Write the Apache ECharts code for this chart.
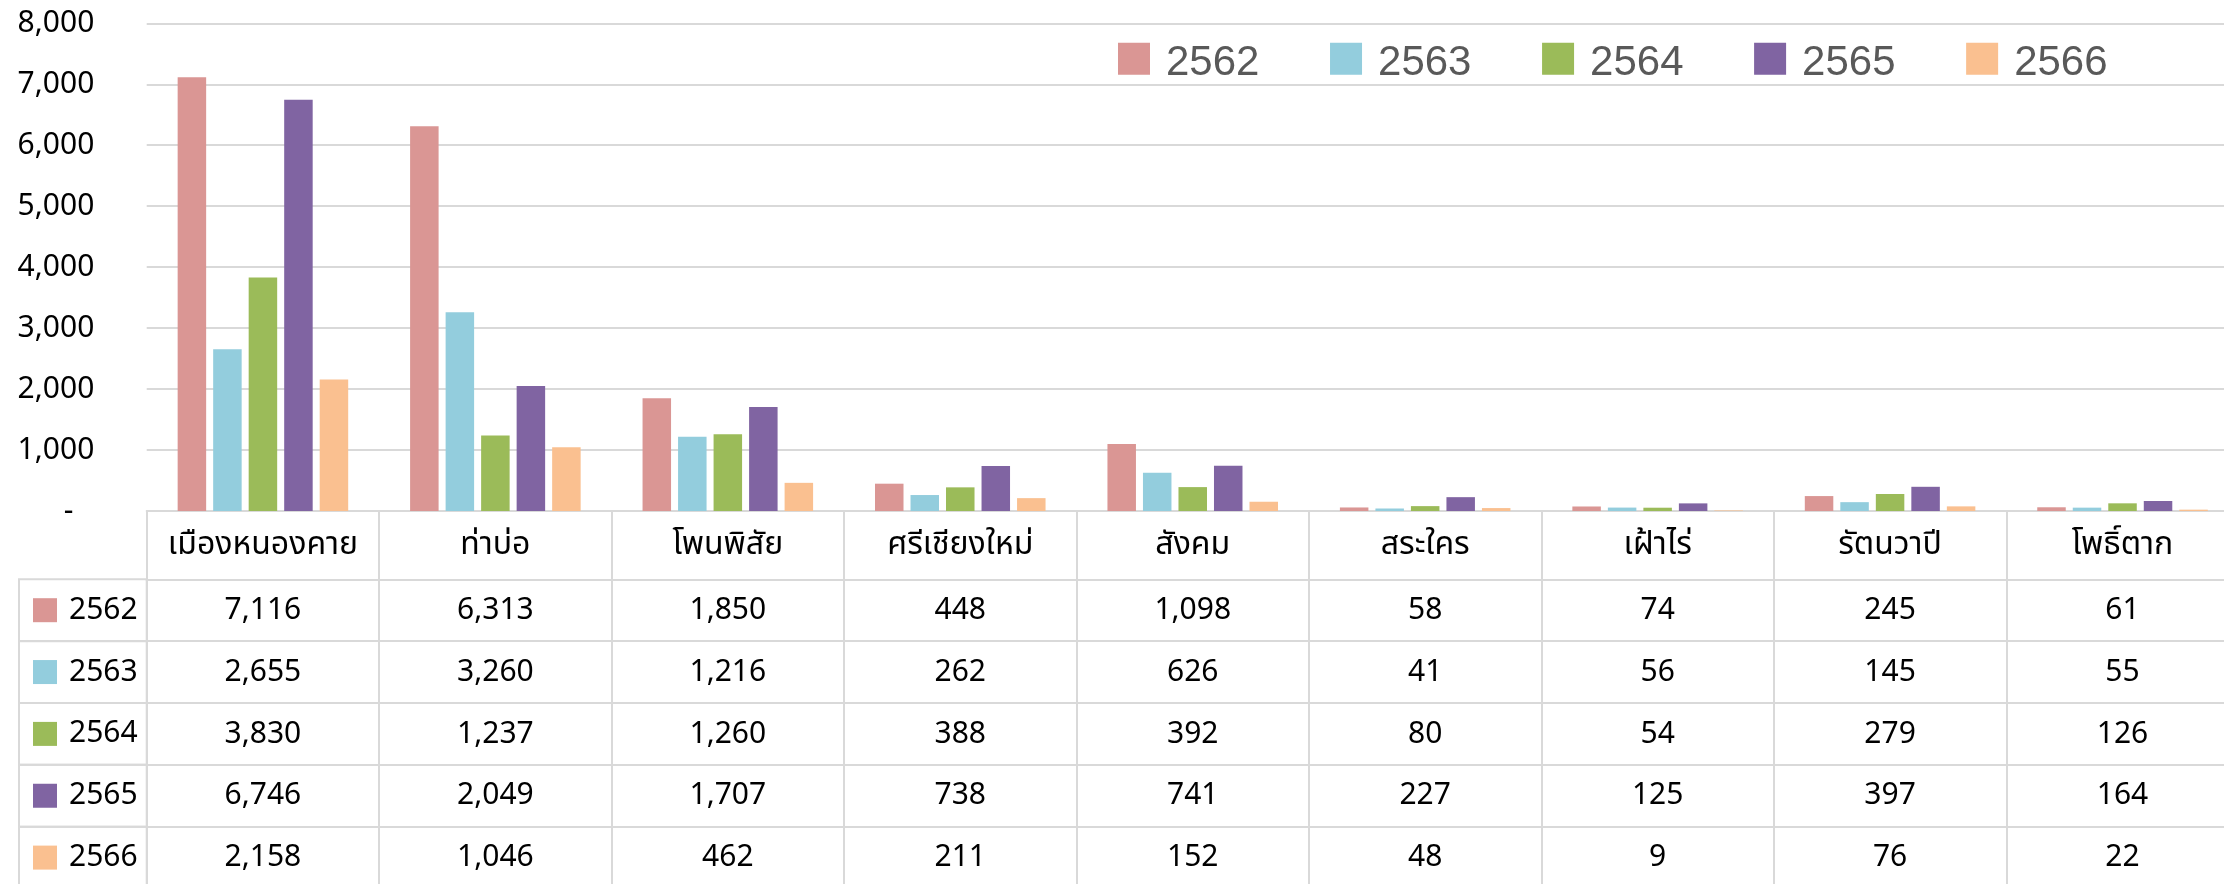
<!DOCTYPE html>
<html><head><meta charset="utf-8">
<script src="https://cdn.jsdelivr.net/npm/echarts@6/dist/echarts.min.js"></script>
<style>html,body{margin:0;padding:0;background:#fff;} #c{width:2224px;height:884px;}</style>
</head><body><div id="c"></div>
<script>
// ---- data ----
const categories = ['เมืองหนองคาย','ท่าบ่อ','โพนพิสัย','ศรีเชียงใหม่','สังคม','สระใคร','เฝ้าไร่','รัตนวาปี','โพธิ์ตาก'];
const years = ['2562','2563','2564','2565','2566'];
const v2562 = [7116, 6313, 1850, 448, 1098, 58, 74, 245, 61];
const v2563 = [2655, 3260, 1216, 262, 626, 41, 56, 145, 55];
const v2564 = [3830, 1237, 1260, 388, 392, 80, 54, 279, 126];
const v2565 = [6746, 2049, 1707, 738, 741, 227, 125, 397, 164];
const v2566 = [2158, 1046, 462, 211, 152, 48, 9, 76, 22];
const yMin = 0, yMax = 8000, yInterval = 1000;

// ---- style ----
const colors = ['#DA9694','#93CDDD','#9BBB59','#8064A2','#FAC090'];
const FONT = "'Noto Sans', 'Noto Sans Thai', Tahoma, 'DejaVu Sans', sans-serif";
const LINE = '#d9d9d9';
const GRID_LEFT = 146.7, CAT_W = 232.45, GRID_TOP = 23.3, AXIS_Y = 511;
const HEADER_H = 68.3, ROW_H = 61.85;

const seriesValues = [v2562, v2563, v2564, v2565, v2566];
const fmt = v => v.toLocaleString('en-US');

const xAxes = [{
  type: 'category', data: categories, gridIndex: 0, position: 'bottom',
  axisLine: {lineStyle: {color: LINE, width: 2}},
  axisTick: {show: true, interval: 0, length: HEADER_H, lineStyle: {color: LINE, width: 2}},
  axisLabel: {interval: 0, margin: 18, fontSize: 32, color: '#000', fontFamily: FONT}
}];
years.forEach((y, i) => {
  xAxes.push({
    type: 'category', data: seriesValues[i].map(fmt), gridIndex: 0, position: 'bottom',
    offset: HEADER_H + i * ROW_H,
    axisLine: {lineStyle: {color: LINE, width: 2}},
    axisTick: {show: true, interval: 0, length: ROW_H, lineStyle: {color: LINE, width: 2}},
    axisLabel: {interval: 0, margin: 16, fontSize: 30, color: '#000', fontFamily: FONT},
    name: '{sq|}{gap|}{t|' + y + '}',
    nameLocation: 'start', nameGap: 0, nameMoveOverlap: false,
    nameTextStyle: {
      align: 'right', verticalAlign: 'top',
      padding: [18.9, 8, 18.9, 14],
      borderColor: LINE, borderWidth: 2,
      rich: {
        sq: {width: 24, height: 24, backgroundColor: colors[i]},
        gap: {width: 11, height: 24},
        t: {width: 70.7, fontSize: 30, color: '#000', fontFamily: FONT, align: 'left', lineHeight: 24}
      }
    }
  });
});

const chart = echarts.init(document.getElementById('c'));
chart.setOption({
  animation: false,
  color: colors,
  grid: {left: GRID_LEFT, top: GRID_TOP, width: 9 * CAT_W, bottom: 884 - AXIS_Y, outerBoundsMode: 'none', containLabel: false},
  legend: {
    left: 1118, top: 42.7, padding: 0, itemWidth: 32, itemHeight: 42, itemGap: 70.6,
    icon: 'path://M0,0H32V32H0Z M0,41.9L0,42',
    textStyle: {fontSize: 42, lineHeight: 42, color: '#595959', fontFamily: "'Liberation Sans', Arial, sans-serif", padding: [0, 0, 0, 11]},
    data: years
  },
  xAxis: xAxes,
  yAxis: {
    type: 'value', min: yMin, max: yMax, interval: yInterval,
    axisLine: {show: false}, axisTick: {show: false},
    splitLine: {lineStyle: {color: LINE, width: 2}},
    axisLabel: {
      fontSize: 30, color: '#000', margin: 52.4, fontFamily: FONT,
      formatter: v => v === 0 ? '{d|-}' : fmt(v),
      rich: {d: {padding: [0, 21, 0, 0], fontSize: 30, color: '#000', fontFamily: FONT}}
    }
  },
  series: years.map((y, i) => ({
    type: 'bar', name: y, data: seriesValues[i], xAxisIndex: 0, yAxisIndex: 0,
    barWidth: 28.5, barGap: '24.6%',
    itemStyle: {color: colors[i]}
  }))
});
</script></body></html>
